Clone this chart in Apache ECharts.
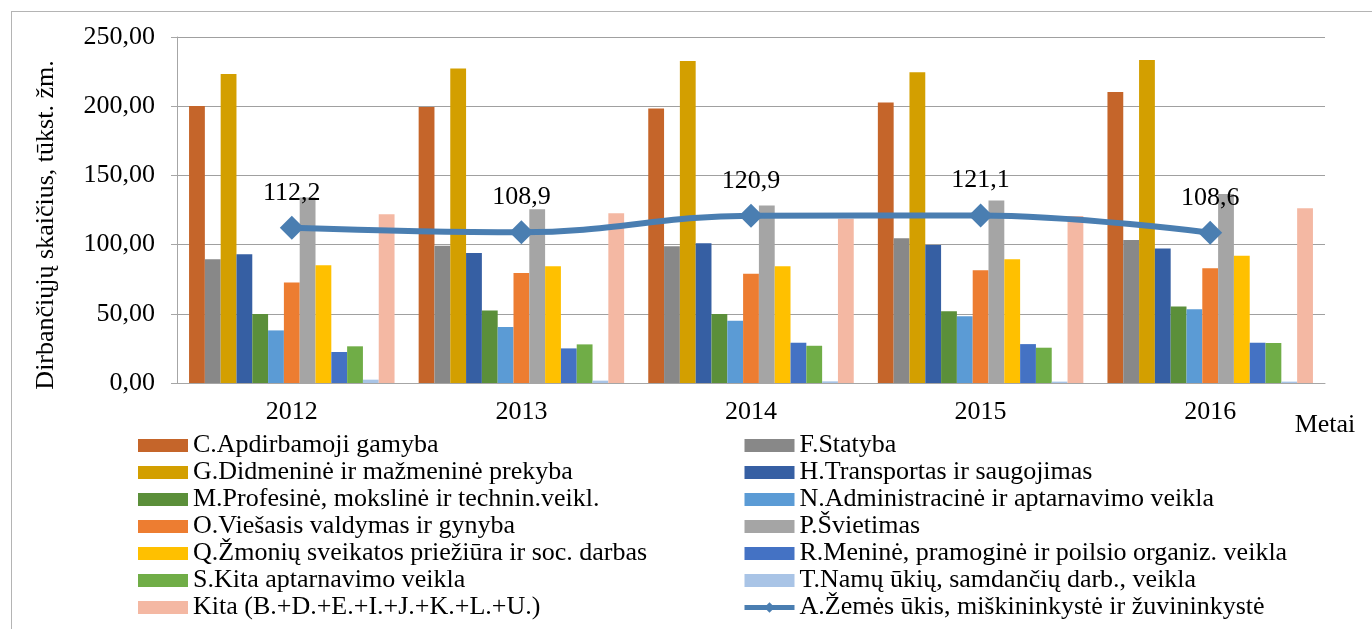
<!DOCTYPE html>
<html>
<head>
<meta charset="utf-8">
<script src="https://cdn.jsdelivr.net/npm/echarts@6/dist/echarts.min.js"></script>
<style>
  html, body { margin: 0; padding: 0; background: #fff; }
  #chart { width: 1372px; height: 629px; }
  #frame { position: absolute; left: 11px; top: 11px; width: 1400px; height: 700px;
           border-left: 1px solid #b4b4b4; border-top: 1px solid #b4b4b4; pointer-events: none; }
</style>
</head>
<body>
<div id="chart"></div>
<div id="frame"></div>
<script>
// Years on the x axis
const years = ['2012', '2013', '2014', '2015', '2016'];

// Employees by activity, thousand people
const manufacturing  = [200.1, 199.4, 198.4, 202.7, 210.2]; // C
const construction   = [89.5, 99.1, 98.8, 104.6, 103.4];    // F
const trade          = [223.2, 227.3, 232.6, 224.6, 233.3]; // G
const transport      = [93.1, 94.0, 101.0, 99.8, 97.2];     // H
const professional   = [49.8, 52.4, 49.8, 51.9, 55.3];      // M
const administrative = [38.0, 40.4, 45.0, 48.3, 53.2];      // N
const publicAdmin    = [72.6, 79.4, 78.9, 81.5, 83.0];      // O
const education      = [134.0, 125.5, 128.2, 131.8, 136.6]; // P
const health         = [85.1, 84.4, 84.4, 89.5, 91.9];      // Q
const arts           = [22.4, 25.0, 29.1, 28.1, 29.1];      // R
const otherServices  = [26.5, 27.9, 26.9, 25.5, 28.9];      // S
const households     = [2.4, 1.7, 1.2, 1.0, 1.0];           // T
const otherSum       = [121.9, 122.7, 118.6, 120.7, 126.3]; // Kita
// Line series: agriculture, forestry and fishing
const agriculture    = [112.2, 108.9, 120.9, 121.1, 108.6];

const yTicks = { min: 0, max: 250, interval: 50 };

const FONT = "'Liberation Serif', 'Times New Roman', serif";
const FS = 26;

const barSeries = [
  { name: 'C.Apdirbamoji gamyba', data: manufacturing, color: '#C5652A' },
  { name: 'F.Statyba', data: construction, color: '#888888' },
  { name: 'G.Didmeninė ir mažmeninė prekyba', data: trade, color: '#D39F00' },
  { name: 'H.Transportas ir saugojimas', data: transport, color: '#365FA3' },
  { name: 'M.Profesinė, mokslinė ir technin.veikl.', data: professional, color: '#5B8F3A' },
  { name: 'N.Administracinė ir aptarnavimo veikla', data: administrative, color: '#5B9BD5' },
  { name: 'O.Viešasis valdymas ir gynyba', data: publicAdmin, color: '#ED7D31' },
  { name: 'P.Švietimas', data: education, color: '#A5A5A5' },
  { name: 'Q.Žmonių sveikatos priežiūra ir soc. darbas', data: health, color: '#FFC000' },
  { name: 'R.Meninė, pramoginė ir poilsio organiz. veikla', data: arts, color: '#4472C4' },
  { name: 'S.Kita aptarnavimo veikla', data: otherServices, color: '#70AD47' },
  { name: 'T.Namų ūkių, samdančių darb., veikla', data: households, color: '#A9C4E6' },
  { name: 'Kita (B.+D.+E.+I.+J.+K.+L.+U.)', data: otherSum, color: '#F4B8A3' }
];
const lineName = 'A.Žemės ūkis, miškininkystė ir žuvininkystė';

// two legend columns, filled alternately like the original
const leftLegend = barSeries.filter((s, i) => i % 2 === 0).map(s => ({ name: s.name, icon: 'rect' }));
const rightLegend = barSeries.filter((s, i) => i % 2 === 1).map(s => ({ name: s.name, icon: 'rect' }))
  .concat([{ name: lineName, lineStyle: { width: 5 } }]);

const comma = (v, d) => v.toFixed(d).replace('.', ',');

const chart = echarts.init(document.getElementById('chart'));

const legendBase = {
  orient: 'vertical',
  top: 432,
  padding: 0,
  itemWidth: 50,
  itemHeight: 13,
  itemGap: 0,
  textStyle: { fontFamily: FONT, fontSize: FS, lineHeight: 27, color: '#000' }
};

chart.setOption({
  animation: false,
  textStyle: { fontFamily: FONT },
  grid: { left: 177, right: 47, top: 37, bottom: 246 },
  legend: [
    Object.assign({ left: 138, data: leftLegend }, legendBase),
    Object.assign({ left: 742, data: rightLegend }, legendBase)
  ],
  xAxis: {
    type: 'category',
    data: years,
    name: 'Metai',
    nameLocation: 'end',
    nameGap: 0,
    nameTextStyle: { fontFamily: FONT, fontSize: FS, color: '#000', align: 'center', verticalAlign: 'top', padding: [29, 0, 0, 0] },
    axisLine: { lineStyle: { color: '#a6a6a6', width: 1 } },
    axisTick: { length: 7, lineStyle: { color: '#a6a6a6' } },
    axisLabel: { fontFamily: FONT, fontSize: FS, color: '#000', margin: 16 }
  },
  yAxis: {
    type: 'value',
    min: yTicks.min,
    max: yTicks.max,
    interval: yTicks.interval,
    name: 'Dirbančiųjų skaičius, tūkst. žm.',
    nameLocation: 'middle',
    nameGap: 118,
    nameTextStyle: { fontFamily: FONT, fontSize: FS, color: '#000', padding: [0, 30, 0, 0] },
    axisLine: { show: true, lineStyle: { color: '#a6a6a6', width: 1 } },
    axisTick: { show: true, length: 6, lineStyle: { color: '#a6a6a6' } },
    axisLabel: { fontFamily: FONT, fontSize: FS, color: '#000', margin: 22, formatter: v => comma(v, 2) },
    splitLine: { lineStyle: { color: '#a0a0a0', width: 1 } }
  },
  series: barSeries.map(s => ({
    name: s.name,
    type: 'bar',
    data: s.data,
    barGap: '0%',
    barCategoryGap: '10.5%',
    itemStyle: { color: s.color }
  })).concat([{
    name: lineName,
    type: 'line',
    data: agriculture,
    smooth: 0.4,
    symbol: 'diamond',
    symbolSize: 24,
    z: 5,
    itemStyle: { color: '#4A7EB1' },
    lineStyle: { color: '#4A7EB1', width: 6 },
    label: {
      show: true,
      position: 'top',
      distance: 10,
      fontFamily: FONT,
      fontSize: FS,
      color: '#000',
      formatter: p => comma(p.value, 1)
    }
  }])
});
</script>
</body>
</html>
